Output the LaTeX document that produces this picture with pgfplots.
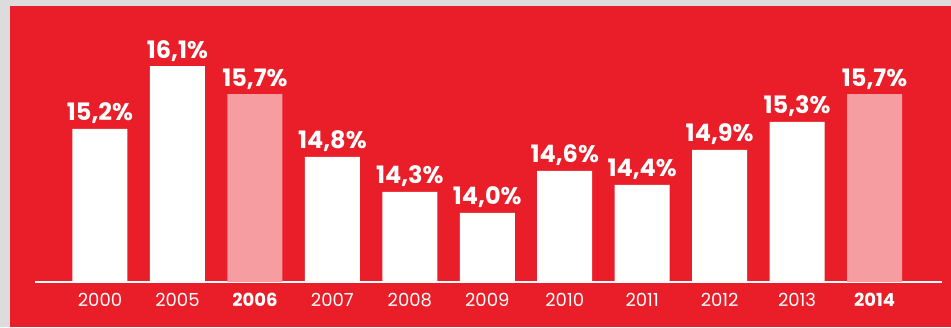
\documentclass[border=0pt]{standalone}
\usepackage{fontspec}
\setmainfont{Poppins}
\usepackage{pgfplots}
\pgfplotsset{compat=1.18}
\definecolor{bgred}{HTML}{E91E28}
\definecolor{bggray}{HTML}{DCDCDC}
\definecolor{pinkbar}{HTML}{F59DA1}
\begin{document}
\begin{tikzpicture}[x=1pt,y=1pt]
\fill[bggray] (0,0) rectangle (951,327);
\fill[bgred] (10,0) rectangle (951,321);
\begin{axis}[
  at={(35pt,45pt)}, anchor=south west,
  scale only axis, width=907pt, height=282pt,
  xmin=-0.839, xmax=10.871,
  ymin=13.014, ymax=17.043,
  axis y line=none, axis x line*=bottom,
  x axis line style={white, line width=1.3pt, -},
  xtick={0,...,10},
  xticklabels={2000,2005,\textbf{2006},2007,2008,2009,2010,2011,2012,2013,\textbf{2014}},
  major tick length=0pt,
  xticklabel style={font=\fontsize{18}{18}\selectfont, text=white, anchor=north, inner sep=0pt, yshift=-11pt},
  ybar, bar width=55pt,
  nodes near coords={\pgfmathprintnumber[fixed,fixed zerofill,precision=1,use comma,assume math mode=true]{\pgfplotspointmeta}\%},
  every node near coord/.append style={font=\fontsize{24}{24}\selectfont\bfseries, text=white, anchor=base, inner sep=0pt, yshift=8pt},
]
\addplot[draw=none, fill=white, bar shift=0pt] coordinates {
  (0,15.2) (1,16.1) (3,14.8) (4,14.3) (5,14.0) (6,14.6) (7,14.4) (8,14.9) (9,15.3)
};
\addplot[draw=none, fill=pinkbar, bar shift=0pt] coordinates {
  (2,15.7) (10,15.7)
};
\end{axis}
\pgfresetboundingbox
\path (0,0) rectangle (951,327);
\end{tikzpicture}
\end{document}
